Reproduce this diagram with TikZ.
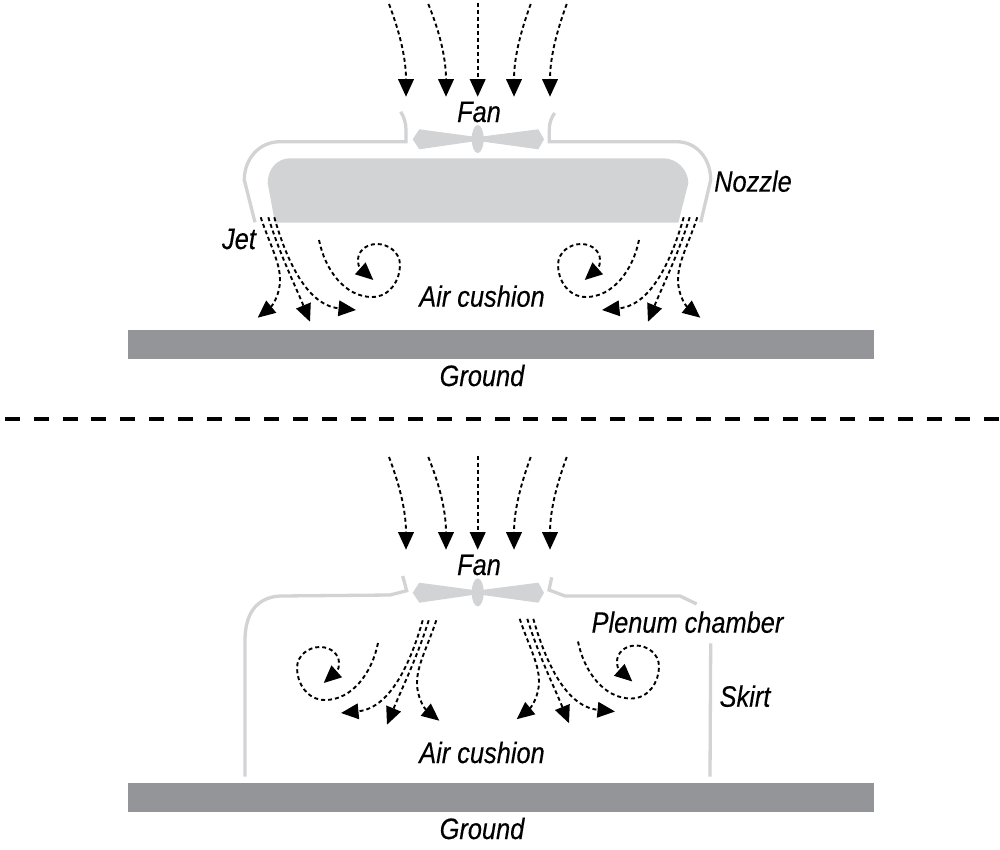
\documentclass[tikz,border=0pt]{standalone}
\usepackage{fontspec}
\newfontfamily\lab{Liberation Sans}[FakeStretch=0.86,FakeBold=0.25]
\usetikzlibrary{arrows.meta}
\definecolor{lightgrey}{HTML}{D1D3D4}
\definecolor{groundgrey}{HTML}{939598}
\tikzset{
  flow/.style={line width=1.9pt,dash pattern=on 4pt off 3pt,-{Triangle[length=17.5pt,width=15.5pt]}},
  wall/.style={draw=lightgrey,line width=3.3pt},
  solidgrey/.style={fill=lightgrey,draw=none},
  ground/.style={fill=groundgrey,draw=none},
  lbl/.style={font=\lab\itshape\fontsize{29.5pt}{32pt}\selectfont,text=black,inner sep=0pt,anchor=base}
}
\newcommand{\jetflows}{%
  \draw[flow] (260.7,217.3) .. controls (270,245) and (280,262) .. (280,280) .. controls (280,295) and (272,306) .. (257.7,317.7);
  \draw[flow] (268.3,217.3) .. controls (280,255) and (295,285) .. (310,321.7);
  \draw[flow] (274.3,217.3) .. controls (285,255) and (305,305) .. (356,310);
  \draw[flow] (319,240) .. controls (325,270) and (345,297) .. (372,297) .. controls (390,297) and (400,280) .. (400,265) .. controls (400,252) and (388,244) .. (377,244) .. controls (365,244) and (358,252) .. (358,260) -- (358.5,265) .. controls (359,267) and (360,268) .. (361,269) -- (373.3,280);
}
\newcommand{\inflows}{%
  \draw[flow] (389,4) .. controls (398,28) and (406,55) .. (406,96.7);
  \draw[flow] (428.3,4) .. controls (438,28) and (446,55) .. (446,96.7);
  \draw[flow] (477.7,2.7) -- (477.7,96.7);
  \draw[flow] (530.7,4) .. controls (522,28) and (514,55) .. (514,96.7);
  \draw[flow] (566.7,4) .. controls (558,28) and (550,55) .. (550,96.7);
}
\newcommand{\fanshape}{%
  \fill[solidgrey] (412.7,139.3) -- (419.3,129.3) -- (473,136.5) -- (482,136.5) -- (538.3,129.3) -- (544,139.3) -- (538.3,149.3) -- (482,141.5) -- (473,141.5) -- (419.3,149.3) -- cycle;
  \fill[solidgrey] (477.7,139) ellipse [x radius=6,y radius=14];
}
\begin{document}
\begin{tikzpicture}[x=1pt,y=-1pt]
\useasboundingbox (0,0) rectangle (1000,849);
% upper figure
\inflows
\fanshape
\draw[wall] (255,222.3) -- (244.3,180) .. controls (244.3,158) and (260,141.7) .. (280,141.7) -- (406,141.7) -- (406,130) .. controls (406,123) and (404,117) .. (400.7,111.7);
\draw[wall] (700.7,222.3) -- (710.7,180) .. controls (710.7,158) and (696,141.7) .. (676.7,141.7) -- (549.3,141.7) -- (549.3,130) .. controls (549.3,123) and (551,118) .. (554.7,113);
\fill[solidgrey] (275,222.7) -- (267.7,183.3) .. controls (267.7,168) and (278,158.3) .. (290,158.3) -- (663.3,158.3) .. controls (677,158.3) and (688.3,170) .. (688.3,183.3) -- (678.3,222.7) -- cycle;
\jetflows
\begin{scope}[shift={(958,0)},xscale=-1]\jetflows\end{scope}
\fill[ground] (128,330) rectangle (874,359);
\node[lbl] (fanA) at (479,122) {Fan};
\node[lbl] (nozzle) at (753,191.7) {Nozzle};
\node[lbl] (jet) at (239,249) {Jet};
\node[lbl] (cushionA) at (482,306.7) {Air cushion};
\node[lbl] (groundA) at (482,386) {Ground};
% separator
\draw[line width=3.4pt,dash pattern=on 15pt off 13.8pt] (5,419) -- (1000,419);
% lower figure
\begin{scope}[shift={(0,453)}]\inflows\end{scope}
\begin{scope}[shift={(0,453.4)}]\fanshape\end{scope}
\draw[wall] (245,776.7) -- (245,640) .. controls (245,625) and (249,613) .. (256,606) .. controls (262,600) and (270,596.5) .. (280,596) -- (390,595) -- (406.7,590.7) -- (402.7,576);
\draw[wall] (551.7,577.3) -- (549,590) -- (565,596) -- (680,596) -- (696.7,604);
\draw[wall] (710,776.7) -- (710.7,643.3);
\begin{scope}[shift={(259,401.5)}]\jetflows\end{scope}
\begin{scope}[shift={(697,403)},xscale=-1]\jetflows\end{scope}
\fill[ground] (128,783) rectangle (874,812);
\node[lbl] (fanB) at (479,575) {Fan};
\node[lbl] (plenum) at (687.5,632.7) {Plenum chamber};
\node[lbl] (skirt) at (745,706.7) {Skirt};
\node[lbl] (cushionB) at (482,763) {Air cushion};
\node[lbl] (groundB) at (482,839) {Ground};
\end{tikzpicture}
\end{document}
